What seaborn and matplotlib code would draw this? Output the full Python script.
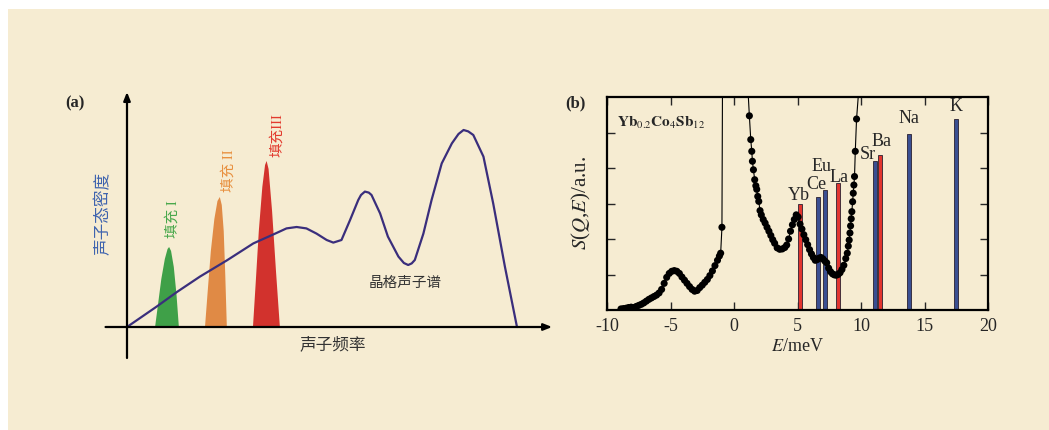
import numpy as np
import pandas as pd
import matplotlib
matplotlib.use('Agg')
import matplotlib.pyplot as plt
import seaborn as sns
from matplotlib.patches import Rectangle

# --- (a) 示意图数据 ---
lattice_x = [0.0, 0.76, 1.28, 1.87, 2.56, 3.24, 3.8, 4.09, 4.35, 4.6, 4.86, 5.12, 5.29, 5.5,
             5.72, 5.93, 6.0, 6.1, 6.2, 6.27, 6.49, 6.69, 6.96, 7.1, 7.21, 7.3, 7.38, 7.6,
             7.81, 8.07, 8.33, 8.5, 8.63, 8.75, 8.88, 9.14, 9.39, 9.69, 10.0]
lattice_y = [0.0, 1.02, 1.75, 2.52, 3.33, 4.18, 4.67, 4.93, 5.0, 4.93, 4.67, 4.35, 4.22, 4.35,
             5.35, 6.35, 6.6, 6.77, 6.72, 6.6, 5.68, 4.52, 3.52, 3.2, 3.1, 3.18, 3.35, 4.67,
             6.35, 8.18, 9.18, 9.65, 9.85, 9.78, 9.6, 8.52, 6.18, 3.02, 0.0]

fill_names = ['填充 I', '填充 II', '填充III']
fill_colors = ['#3FA048', '#E08A45', '#D2322D']
fill_text_colors = ['#48A84B', '#E8903F', '#E23A2E']
peak1_x = [0.72, 0.80, 0.88, 0.97, 1.04, 1.08, 1.13, 1.20, 1.27, 1.33]
peak1_y = [0.0, 1.2, 2.4, 3.4, 3.9, 4.0, 3.8, 3.0, 1.6, 0.0]
peak2_x = [2.0, 2.07, 2.15, 2.24, 2.32, 2.38, 2.43, 2.48, 2.52, 2.56]
peak2_y = [0.0, 1.8, 3.8, 5.4, 6.3, 6.5, 6.1, 4.8, 2.6, 0.0]
peak3_x = [3.23, 3.30, 3.38, 3.47, 3.54, 3.58, 3.63, 3.72, 3.82, 3.92]
peak3_y = [0.0, 2.2, 4.8, 7.0, 8.1, 8.3, 7.9, 5.8, 2.8, 0.0]

# --- (b) Yb0.2Co4Sb12 非弹性中子散射数据 ---
left_E = [-8.9, -8.7, -8.5, -8.3, -8.1, -7.9, -7.7, -7.5, -7.3, -7.1, -6.9, -6.7, -6.5, -6.3,
          -6.1, -5.9, -5.7, -5.5, -5.3, -5.1, -4.9, -4.7, -4.5, -4.3, -4.1, -3.9, -3.7, -3.5,
          -3.3, -3.1, -2.9, -2.7, -2.5, -2.3, -2.1, -1.9, -1.7, -1.5, -1.3, -1.15, -1.05, -0.95]
left_S = [0.03, 0.04, 0.05, 0.07, 0.08, 0.07, 0.10, 0.13, 0.16, 0.20, 0.25, 0.30, 0.34, 0.38,
          0.42, 0.48, 0.58, 0.75, 0.92, 1.03, 1.09, 1.11, 1.09, 1.03, 0.93, 0.84, 0.75, 0.66,
          0.58, 0.53, 0.55, 0.63, 0.70, 0.78, 0.86, 0.97, 1.10, 1.25, 1.40, 1.52, 1.60, 2.33]
right_E = [1.21, 1.32, 1.40, 1.45, 1.53, 1.63, 1.72, 1.79, 1.87, 1.95, 2.05, 2.15, 2.30, 2.45,
           2.60, 2.75, 2.90, 3.05, 3.20, 3.40, 3.60, 3.80, 4.00, 4.15, 4.30, 4.45, 4.60, 4.75,
           4.90, 5.05, 5.20, 5.35, 5.50, 5.65, 5.80, 5.95, 6.10, 6.25, 6.40, 6.55, 6.70, 6.85,
           7.00, 7.15, 7.30, 7.45, 7.60, 7.75, 7.90, 8.05, 8.20, 8.35, 8.50, 8.65, 8.80, 8.92,
           9.00, 9.07, 9.13, 9.18, 9.23, 9.28, 9.34, 9.39, 9.44, 9.49, 9.55, 9.65]
right_S = [5.47, 4.80, 4.47, 4.19, 3.95, 3.67, 3.50, 3.40, 3.20, 3.06, 2.80, 2.68, 2.55, 2.45,
           2.33, 2.22, 2.10, 1.98, 1.88, 1.75, 1.71, 1.72, 1.76, 1.83, 2.00, 2.22, 2.40, 2.55,
           2.68, 2.62, 2.42, 2.28, 2.12, 1.98, 1.84, 1.70, 1.58, 1.48, 1.40, 1.42, 1.46, 1.48,
           1.44, 1.38, 1.33, 1.18, 1.08, 1.02, 0.99, 0.98, 1.00, 1.05, 1.14, 1.26, 1.45, 1.60,
           1.80, 1.97, 2.17, 2.37, 2.57, 2.77, 3.05, 3.29, 3.52, 3.76, 4.47, 5.38]
# 曲线穿出上边框的位置
edge_left_E = -0.91
edge_right_E = [1.13, 9.78]

guest_names = ['Yb', 'Ce', 'Eu', 'La', 'Sr', 'Ba', 'Na', 'K']
guest_E = [5.2, 6.64, 7.16, 8.21, 11.09, 11.49, 13.79, 17.46]
guest_S = [2.98, 3.18, 3.39, 3.57, 4.19, 4.37, 4.97, 5.38]
guest_colors = ['#E2352F', '#3A4F92', '#3A4F92', '#E2352F', '#3A4F92', '#E2352F', '#3A4F92', '#3A4F92']
label_E = [5.1, 6.5, 6.9, 8.3, 10.5, 11.6, 13.8, 17.5]
label_S = [3.0, 3.3, 3.8, 3.5, 4.15, 4.5, 5.15, 5.5]

bg = '#F6ECD2'
cjk = ['Liberation Serif', 'Noto Sans CJK SC', 'DejaVu Sans']
serif = ['Liberation Serif', 'DejaVu Serif']

sns.set_style('white')
plt.rcParams['mathtext.fontset'] = 'stix'
plt.rcParams['font.family'] = serif

fig = plt.figure(figsize=(10.49, 4.30), dpi=100)
fig.patch.set_facecolor('white')
fig.patches.append(Rectangle((8 / 1049, 0), 1, 421 / 430, transform=fig.transFigure,
                             facecolor=bg, edgecolor='none', zorder=-10))

# ---------------- (a) ----------------
axa = fig.add_axes([95 / 1049, 65 / 430, 465 / 1049, 280 / 430])
axa.set_xlim(-0.8205, 11.103)
axa.set_ylim(-1.9, 12.1)
axa.axis('off')
axa.patch.set_alpha(0)

for px, py, c in zip([peak1_x, peak2_x, peak3_x], [peak1_y, peak2_y, peak3_y], fill_colors):
    axa.fill(px, py, color=c, lw=0, zorder=2)

sns.lineplot(x=lattice_x, y=lattice_y, sort=False, ax=axa, color='#3A2E7C', lw=1.6, zorder=3)

arrow = dict(arrowstyle='-|>,head_length=0.5,head_width=0.2', color='black', lw=1.6,
             shrinkA=0, shrinkB=0)
axa.annotate('', xy=(10.9, 0), xytext=(-0.55, 0), arrowprops=arrow, zorder=4)
axa.annotate('', xy=(0, 11.75), xytext=(0, -1.55), arrowprops=arrow, zorder=4)

axa.text(-1.33, 11.2, '(a)', fontsize=12, fontweight='bold', family=serif,
         ha='center', va='center')
axa.text(-0.6, 5.7, '声子态密度', rotation=90, fontsize=12, color='#3E63AE', family=cjk,
         ha='center', va='center')
text_pos = [(1.18, 5.4), (2.6, 7.8), (3.85, 9.6)]
for (tx, ty), name, c in zip(text_pos, fill_names, fill_text_colors):
    axa.text(tx, ty, name, rotation=90, fontsize=10.5, color=c, family=cjk,
             ha='center', va='center')
axa.text(7.13, 2.2, '晶格声子谱', fontsize=10.5, color='#333333', family=cjk,
         ha='center', va='center')
axa.text(5.28, -0.9, '声子频率', fontsize=12, color='#333333', family=cjk,
         ha='center', va='center')

# ---------------- (b) ----------------
axb = fig.add_axes([607 / 1049, 120 / 430, 381 / 1049, 213 / 430])
axb.patch.set_alpha(0)

axb.bar(guest_E, guest_S, width=0.32, color=guest_colors, edgecolor='#2a2030',
        linewidth=0.6, zorder=2)

sns.lineplot(x=left_E + [edge_left_E], y=left_S + [6.0], sort=False, ax=axb,
             color='black', lw=0.8, zorder=3)
sns.lineplot(x=[edge_right_E[0]] + right_E + [edge_right_E[1]], y=[6.0] + right_S + [6.0],
             sort=False, ax=axb, color='black', lw=0.8, zorder=3)
pts = pd.DataFrame({'E': left_E + right_E, 'S': left_S + right_S})
sns.scatterplot(data=pts, x='E', y='S', ax=axb, color='black', s=26, edgecolor='none',
                zorder=4)

for name, lx, ly in zip(guest_names, label_E, label_S):
    axb.text(lx, ly, name, fontsize=13, family=serif, ha='center', va='bottom', zorder=5)

axb.text(0.025, 0.88, r'$\mathbf{Yb}_{0.2}\mathbf{Co}_{4}\mathbf{Sb}_{12}$',
         transform=axb.transAxes, fontsize=11, ha='left', va='center')

axb.set_xlim(-10, 20)
axb.set_ylim(0, 6)
axb.set_xticks([-10, -5, 0, 5, 10, 15, 20])
axb.set_xticklabels(['-10', '-5', '0', '5', '10', '15', '20'])
axb.set_yticks([1, 2, 3, 4, 5])
axb.set_yticklabels([])
axb.tick_params(direction='in', top=True, right=True, left=True, bottom=True,
                length=6, width=1, labelsize=13, pad=6)
for sp in axb.spines.values():
    sp.set_linewidth(1.6)
    sp.set_color('black')
axb.set_xlabel(r'$E$/meV', fontsize=13, labelpad=2)
axb.set_ylabel(r'$S$($Q$,$E$)/a.u.', fontsize=15, labelpad=4)
fig.text(575 / 1049, 1 - 103 / 430, '(b)', fontsize=12, fontweight='bold', family=serif,
         ha='center', va='center')

fig.savefig('out.png', dpi=100, facecolor=fig.get_facecolor())
